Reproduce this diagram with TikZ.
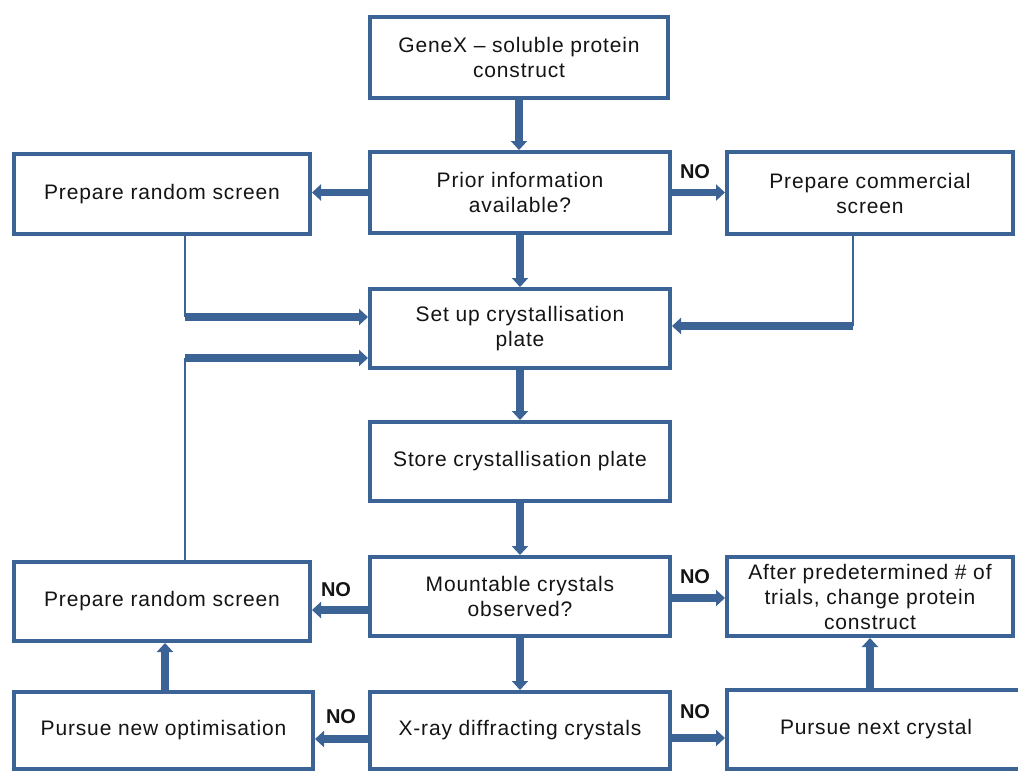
\documentclass[tikz,border=0pt]{standalone}
\usepackage{fontspec}
\setmainfont{Liberation Sans}[LetterSpace=4]
\newfontfamily\nofont{Liberation Sans}[LetterSpace=0]
\usetikzlibrary{arrows.meta}
\definecolor{flowblue}{HTML}{3B6396}
\tikzset{
  box/.style={draw=flowblue, line width=2pt, fill=white, inner sep=0pt, align=center,
    font=\fontsize{10.5}{12.5}\selectfont, text=black!92},
  bigarrow/.style={draw=flowblue, line width=3.6pt, -{Triangle[length=4.5pt,width=8pt]}},
  thinline/.style={draw=flowblue, line width=1pt},
  nolabel/.style={font=\nofont\fontsize{10}{12}\selectfont\bfseries, text=black!92, inner sep=0pt}
}
\begin{document}
\begin{tikzpicture}[x=0.5pt,y=-0.5pt]
\useasboundingbox (0,0) rectangle (1018,772);
\clip (0,0) rectangle (1018,772);
% boxes
\node[box, minimum width=149pt, minimum height=40.5pt] (genex) at (519,57.5) {GeneX -- soluble protein\\construct};
\node[box, minimum width=150pt, minimum height=40.5pt] (prior) at (520,192.5) {Prior information\\available?};
\node[box, minimum width=148pt, minimum height=40pt] (randtop) at (162,194) {\raisebox{-1pt}{Prepare random screen}};
\node[box, minimum width=143pt, minimum height=41pt] (comm) at (870,193) {Prepare commercial\\screen};
\node[box, minimum width=150pt, minimum height=39.5pt] (setup) at (520,328.5) {Set up crystallisation\\plate};
\node[box, minimum width=150pt, minimum height=39.5pt] (store) at (520,461.5) {\raisebox{-1pt}{Store crystallisation plate}};
\node[box, minimum width=150pt, minimum height=39.5pt] (mount) at (520,596.5) {Mountable crystals\\observed?};
\node[box, minimum width=148pt, minimum height=39.5pt] (randbot) at (162,601.5) {\raisebox{-1pt}{Prepare random screen}};
\node[box, minimum width=143pt, minimum height=39.5pt] (after) at (870,596.5) {After predetermined \# of\\trials, change protein\\construct};
\node[box, minimum width=149.5pt, minimum height=38.5pt] (pnew) at (163.5,730.5) {\raisebox{-1.5pt}{Pursue new optimisation}};
\node[box, minimum width=150pt, minimum height=38.5pt] (xray) at (520,730.5) {X-ray diffracting crystals};
\node[box, minimum width=149pt, minimum height=39.5pt] (pnext) at (876,729.5) {\raisebox{-1pt}{Pursue next crystal}};
% main flow
\draw[bigarrow] (genex.south) -- (genex.south |- prior.north);
\draw[bigarrow] (prior.south) -- (prior.south |- setup.north);
\draw[bigarrow] (setup.south) -- (setup.south |- store.north);
\draw[bigarrow] (store.south) -- (store.south |- mount.north);
\draw[bigarrow] (mount.south) -- (mount.south |- xray.north);
% side arrows
\draw[bigarrow] (prior.west) -- (prior.west -| randtop.east);
\draw[bigarrow] (prior.east) -- (prior.east -| comm.west);
\coordinate (mL) at (370,610);
\coordinate (mR) at (670,598);
\draw[bigarrow] (mL -| mount.west) -- (mL -| randbot.east);
\draw[bigarrow] (mR -| mount.east) -- (mR -| after.west);
\coordinate (xL) at (370,739);
\coordinate (xR) at (670,738);
\draw[bigarrow] (xL -| xray.west) -- (xL -| pnew.east);
\draw[bigarrow] (xR -| xray.east) -- (xR -| pnext.west);
% upward arrows
\coordinate (pu) at (165,700);
\draw[bigarrow] (pu |- pnew.north) -- (pu |- randbot.south);
\coordinate (nu) at (870,700);
\draw[bigarrow] (nu |- pnext.north) -- (nu |- after.south);
% loops into set up
\coordinate (c1) at (185,317);
\draw[thinline] (c1 |- randtop.south) -- (c1);
\draw[bigarrow] (c1) -- (c1 -| setup.west);
\coordinate (c2) at (185,358);
\draw[thinline] (c2 |- randbot.north) -- (c2);
\draw[bigarrow] (c2) -- (c2 -| setup.west);
\coordinate (c3) at (853,326);
\draw[thinline] (c3 |- comm.south) -- (c3);
\draw[bigarrow] (c3) -- (c3 -| setup.east);
% NO labels
\node[nolabel] (no1) at (695,172) {NO};
\node[nolabel] (no2) at (336,590) {NO};
\node[nolabel] (no3) at (695,577) {NO};
\node[nolabel] (no4) at (341,717) {NO};
\node[nolabel] (no5) at (695,712) {NO};
\end{tikzpicture}
\end{document}
